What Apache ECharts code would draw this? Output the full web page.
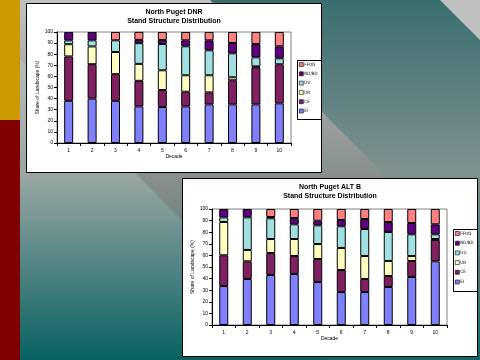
<!DOCTYPE html>
<html><head><meta charset="utf-8">
<script src="https://cdn.jsdelivr.net/npm/echarts@6/dist/echarts.min.js"></script>
<style>html,body{margin:0;padding:0;background:#fff}#c{width:480px;height:360px}</style>
</head><body><div id="c"></div>
<script>
// ---- data ----
const decades = ['1','2','3','4','5','6','7','8','9','10'];
const classNames = ['EI','CE','UR','DU','ND/BD','FFOG'];
const legendOrder = ['FFOG','ND/BD','DU','UR','CE','EI'];
const classColors = ['#8080FF','#802060','#FFFFC0','#A0E0E0','#600080','#FF8080'];
const chartTitles = ['North Puget DNR\nStand Structure Distribution','North Puget ALT B\nStand Structure Distribution'];
const yAxisTitle = 'Share of Landscape (%)';
const xAxisTitle = 'Decade';

const dnrEI   = [38, 40, 38, 33, 32.4, 33, 34.8, 34.8, 34.8, 35.7];
const dnrCE   = [40, 31, 24, 23, 15.3, 13.2, 10.8, 21.7, 33.4, 35.2];
const dnrUR   = [11, 16, 20, 15.3, 17.8, 14.8, 15.4, 2.7, 0.8, 0];
const dnrDU   = [3.5, 5.5, 10.5, 18.6, 23.7, 26.1, 22.5, 21.6, 8.2, 5.4];
const dnrND   = [7.5, 7.5, 0, 3, 3.6, 5.4, 9, 9.3, 12, 10.8];
const dnrFFOG = [0, 0, 7.5, 7.2, 7.2, 7.5, 7.5, 9.9, 10.8, 12.9];

const altEI   = [33.6, 39.7, 43.1, 44, 37.1, 28.4, 28.4, 32.8, 41.4, 54.9];
const altCE   = [26.5, 15.2, 19, 15.5, 19.8, 19, 11.3, 9.4, 13.8, 18.4];
const altUR   = [28.7, 9.8, 12, 14.6, 12.9, 19, 19.8, 13, 4.3, 0.8];
const altDU   = [4, 28.1, 17.9, 12.7, 16.1, 18.7, 23.3, 25, 18.7, 4.1];
const altND   = [7.2, 7.2, 1.1, 5.4, 4, 5.4, 8.6, 8.6, 9.7, 8.6];
const altFFOG = [0, 0, 6.9, 7.8, 10.1, 9.5, 8.6, 11.2, 12.1, 13.2];

const dnrSeries = [dnrEI, dnrCE, dnrUR, dnrDU, dnrND, dnrFFOG];
const altSeries = [altEI, altCE, altUR, altDU, altND, altFFOG];

// ---- chart ----
const FONT = 'Liberation Sans';
const chart = echarts.init(document.getElementById('c'), null, {renderer:'canvas'});

function grad(stops){ return new echarts.graphic.LinearGradient(0,0,0,1, stops.map(s=>({offset:s[0],color:s[1]}))); }

const graphic = [
  {type:'rect', shape:{x:20,y:0,width:460,height:360}, style:{fill:grad([[0,'#3a6e6e'],[0.48,'#7f9190'],[1,'#086262']])}, z:-10},
  {type:'polygon', shape:{points:[[20,0],[210,0],[480,270],[480,360],[322,360],[20,58]]}, style:{fill:grad([[0,'#c0c0c0'],[0.55,'#808a88'],[1,'#116868']])}, z:-9},
  {type:'polygon', shape:{points:[[20,58],[20,360],[322,360]]}, style:{fill:grad([[0,'#b4bcbc'],[0.38,'#9ba7a5'],[1,'#086262']])}, z:-9},
  {type:'polygon', shape:{points:[[440,0],[480,0],[480,40]]}, style:{fill:'#c0c0c0'}, z:-9},
  {type:'rect', shape:{x:0,y:0,width:20,height:120}, style:{fill:'#CC9900'}, z:-8},
  {type:'rect', shape:{x:0,y:120,width:20,height:240}, style:{fill:'#800000'}, z:-8},
  {type:'rect', shape:{x:26.5,y:3.5,width:295,height:169}, style:{fill:'#fff',stroke:'#000',lineWidth:1}, z:-5},
  {type:'rect', shape:{x:182.5,y:178.5,width:295,height:178}, style:{fill:'#fff',stroke:'#000',lineWidth:1}, z:-5},
  {type:'rect', shape:{x:297.5,y:60.5,width:24,height:59}, style:{fill:'#fff',stroke:'#000',lineWidth:1}, z:-4},
  {type:'rect', shape:{x:453.5,y:229.5,width:24,height:62}, style:{fill:'#fff',stroke:'#000',lineWidth:1}, z:-4},
  {type:'text', x:174, y:8, style:{text:chartTitles[0], textAlign:'center', fontSize:7, fontWeight:'bold', lineHeight:9, fontFamily:FONT, fill:'#000'}, z:-3},
  {type:'text', x:330, y:183, style:{text:chartTitles[1], textAlign:'center', fontSize:7, fontWeight:'bold', lineHeight:9, fontFamily:FONT, fill:'#000'}, z:-3}
];

const grids = [
  {left:57, top:32, width:234, height:111, show:true, borderColor:'#808080', borderWidth:1, backgroundColor:'transparent'},
  {left:212, top:209, width:235, height:116, show:true, borderColor:'#808080', borderWidth:1, backgroundColor:'transparent'}
];

function xAxis(i, gap){
  return {type:'category', gridIndex:i, data:decades, name:xAxisTitle, nameLocation:'middle', nameGap:gap,
    nameTextStyle:{fontSize:5, fontFamily:FONT, color:'#000'},
    axisLine:{lineStyle:{color:'#000',width:1}}, axisTick:{show:true, length:3, lineStyle:{color:'#000'}},
    axisLabel:{fontSize:5, fontFamily:FONT, color:'#000', margin:5}};
}
function yAxis(i, gap){
  return {type:'value', gridIndex:i, min:0, max:100, interval:10, name:yAxisTitle, nameLocation:'middle', nameGap:gap,
    nameTextStyle:{fontSize:5, fontFamily:FONT, color:'#000'},
    axisLine:{show:true, lineStyle:{color:'#000',width:1}}, axisTick:{show:true, length:3, lineStyle:{color:'#000'}},
    splitLine:{show:false}, axisLabel:{fontSize:5, fontFamily:FONT, color:'#000', margin:4}};
}

const series = [];
[dnrSeries, altSeries].forEach((set, gi) => {
  set.forEach((vals, k) => {
    series.push({type:'bar', name:classNames[k], xAxisIndex:gi, yAxisIndex:gi, stack:'s'+gi, barWidth:9,
      data: vals.map(v => v === 0 ? null : v),
      itemStyle:{color:classColors[k], borderColor:'#000', borderWidth:1},
      emphasis:{disabled:true}, animation:false});
  });
});

function legend(left, top, gap){
  return {data:legendOrder, orient:'vertical', left:left, top:top, itemWidth:4, itemHeight:4, itemGap:gap,
    icon:'rect', padding:0, itemStyle:{borderWidth:0.6},
    textStyle:{fontSize:4.5, fontFamily:'DejaVu Sans Condensed', color:'#000', padding:[0,0,0,-4]}, selectedMode:false};
}

chart.setOption({
  animation:false,
  graphic: graphic,
  grid: grids,
  xAxis: [xAxis(0, 8), xAxis(1, 9)],
  yAxis: [yAxis(0, 17), yAxis(1, 17)],
  legend: [legend(299, 62, 4.3), legend(455, 231, 4.7)],
  series: series
});
</script></body></html>
